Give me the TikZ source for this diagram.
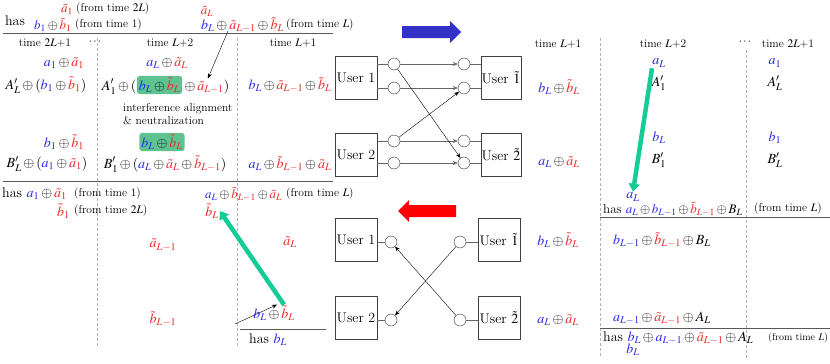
\documentclass[tikz,border=0pt]{standalone}
\usepackage{mathptmx}
\usetikzlibrary{arrows.meta}

\definecolor{ublue}{RGB}{40,40,235}
\definecolor{ured}{RGB}{240,40,40}
\definecolor{hlgreen}{RGB}{95,195,145}
\definecolor{fatgreen}{RGB}{20,205,150}
\definecolor{fatblue}{RGB}{50,50,200}
\newcommand{\xb}[1]{{\color{ublue}#1}}
\newcommand{\xr}[1]{{\color{ured}#1}}

\tikzset{
  user/.style={draw=black!75, minimum width=42pt, minimum height=43pt, inner sep=0.5pt,
    font=\fontsize{14}{16}\selectfont},
  port/.style={circle, draw=black!80, minimum size=12pt, inner sep=0pt},
  wire/.style={draw=gray!80!black},
  link/.style={-{Stealth[length=5pt,width=4pt]}},
  fat/.style={draw=fatgreen, line width=4.5pt, -{Triangle[length=8pt,width=11pt]}},
  sep/.style={draw=black!65, line width=1pt},
  col/.style={draw=gray!60, dash pattern=on 3pt off 2pt},
  tl/.style={font=\fontsize{11.5}{13}\selectfont, inner sep=1pt},
  sm/.style={font=\fontsize{13}{15}\selectfont, inner sep=1pt},
  eq/.style={font=\fontsize{14}{16}\selectfont, inner sep=1pt},
  hl/.style={fill=hlgreen, rounded corners=3pt, inner sep=2pt, font=\fontsize{14}{16}\selectfont}
}

\begin{document}
\begin{tikzpicture}[x=1pt,y=-1pt]
\useasboundingbox (0,0) rectangle (830,364);

% left panel: what is known before time L+1
\node[eq] (hasT0) at (15,21) {has};
\node[sm, anchor=west] (hasT1) at (60,9) {$\xr{\tilde a_1}$};
\node[tl, anchor=west] (fromT1) at (75,9) {(from time $2L$)};
\node[sm, anchor=west] (hasT2) at (33,25) {$\xb{b_1}\oplus\xr{\tilde b_1}$};
\node[tl, anchor=west] (fromT2) at (74,25) {(from time 1)};
\node[sm] (hasT3) at (207,11) {$\xr{\tilde a_L}$};
\node[eq, anchor=west] (hasT4) at (200,25) {$\xb{b_L}\oplus\xr{\tilde a_{L-1}}\oplus\xr{\tilde b_L}$};
\node[tl, anchor=west] (fromT4) at (285,25) {(from time $L$)};
\draw[sep] (3,33) -- (333,33);

% column heads
\node[tl] (tA1) at (45,43) {time $2L$+1};
\node[tl] (dotsA) at (95,42) {$\cdots$};
\node[tl] (tA2) at (170,43) {time $L$+2};
\node[tl] (tA3) at (293,43) {time $L$+1};
\draw[col] (97,38) -- (97,348);
\draw[col] (237,38) -- (237,348);

% first row
\node[eq] (a1s) at (64,63) {$\xb{a_1}\oplus\xr{\tilde a_1}$};
\node[eq] (rowA1) at (46,85) {$A'_L\oplus(\xb{b_1}\oplus\xr{\tilde b_1})$};
\node[eq] (aLs) at (167,63) {$\xb{a_L}\oplus\xr{\tilde a_L}$};
\node[hl] (algA) at (159.5,85) {$\xb{b_L}\oplus\xr{\tilde b_L}$};
\node[eq, anchor=base east, inner xsep=0pt] (preA) at (algA.base west) {$A'_1\oplus{}($};
\node[eq, anchor=base west, inner xsep=0pt] (postA) at (algA.base east) {${}\oplus\xr{\tilde a_{L-1}})$};
\node[eq] (rowA3) at (290,85) {$\xb{b_L}\oplus\xr{\tilde a_{L-1}}\oplus\xr{\tilde b_L}$};
\coordinate (srcA) at (228,31);
\draw[link] (srcA) -- ([xshift=2pt]postA.north);

\node[tl, anchor=west, align=left] (note) at (122,114) {interference alignment\\\& neutralization};

% second row
\node[eq] (b1s) at (64,142) {$\xb{b_1}\oplus\xr{\tilde b_1}$};
\node[hl] (algB) at (162,142) {$\xb{b_L}\oplus\xr{\tilde b_L}$};
\node[eq] (rowB1) at (47,164) {$B'_L\oplus(\xb{a_1}\oplus\xr{\tilde a_1})$};
\node[eq] (rowB2) at (165,164) {$B'_1\oplus(\xb{a_L}\oplus\xr{\tilde a_L}\oplus\xr{\tilde b_{L-1}})$};
\node[eq] (rowB3) at (290,164) {$\xb{a_L}\oplus\xr{\tilde b_{L-1}}\oplus\xr{\tilde a_L}$};
\draw[sep] (3,181) -- (333,181);

% lower left panel
\node[eq, anchor=west] (hasM1) at (1,194) {has $\xb{a_1}\oplus\xr{\tilde a_1}$};
\node[tl, anchor=west] (fromM1) at (73,194) {(from time 1)};
\node[eq, anchor=west] (hasM2) at (56,211) {$\xr{\tilde b_1}$};
\node[tl, anchor=west] (fromM2) at (73,211) {(from time $2L$)};
\node[sm, anchor=west] (hasM3) at (204,194) {$\xb{a_L}\oplus\xr{\tilde b_{L-1}}\oplus\xr{\tilde a_L}$};
\node[tl, anchor=west] (fromM3) at (285,194) {(from time $L$)};
\node[eq] (bLt) at (212,211) {$\xr{\tilde b_L}$};
\node[eq] (aLm1) at (163,245) {$\xr{\tilde a_{L-1}}$};
\node[eq] (aLt) at (290,242) {$\xr{\tilde a_L}$};
\node[eq] (bLm1) at (163,319) {$\xr{\tilde b_{L-1}}$};
\node[eq] (sumL) at (274,313) {$\xb{b_L}\oplus\xr{\tilde b_L}$};
\coordinate (srcB) at (235,324);
\draw[link] (srcB) -- ([xshift=3pt]sumL.north);
\draw[fat] ([xshift=10pt]sumL.north) -- (bLt.east);
\draw[sep] (240,329) -- (326,329);
\node[eq] (hasL) at (268,340) {has $\xb{b_L}$};

% forward channel
\fill[fatblue] (402,26) -- ++(48,0) -- ++(0,-5) -- ++(11,11) -- ++(-11,11) -- ++(0,-5) -- ++(-48,0) -- cycle;
\node[user] (uA1) at (356,78) {User 1};
\node[user] (uA2) at (356,155) {User 2};
\node[user, minimum width=38pt] (uB1) at (501,78) {User $\tilde 1$};
\node[user, minimum width=38pt] (uB2) at (501,155) {User $\tilde 2$};
\foreach \n/\y in {1/64,2/88,3/141,4/163} {
  \node[port] (sA\n) at (394,\y) {};
  \node[port] (rA\n) at (464,\y) {};
}
\foreach \n/\u in {1/1,2/1,3/2,4/2} {
  \draw[wire] (uA\u.east |- sA\n) -- (sA\n);
  \draw[wire] (rA\n) -- (rA\n -| uB\u.west);
  \draw[wire, link] (sA\n) -- (rA\n);
}
\draw[link] (sA1) -- (rA4);
\draw[link] (sA3) -- (rA2);

% backward channel
\fill[red] (456,205) -- ++(-47,0) -- ++(0,-5) -- ++(-11,11) -- ++(11,11) -- ++(0,-5) -- ++(47,0) -- cycle;
\node[user] (uC1) at (356,240) {User 1};
\node[user] (uC2) at (356,318) {User 2};
\node[user] (uD1) at (499,240) {User $\tilde 1$};
\node[user] (uD2) at (499,318) {User $\tilde 2$};
\node[port] (pC1) at (391,242) {};
\node[port] (pC2) at (391,320) {};
\node[port] (pD1) at (460,242) {};
\node[port] (pD2) at (460,320) {};
\draw[wire] (uC1.east |- pC1) -- (pC1);
\draw[wire] (uC2.east |- pC2) -- (pC2);
\draw[wire] (pD1) -- (pD1 -| uD1.west);
\draw[wire] (pD2) -- (pD2 -| uD2.west);
\draw[link] (pD2) -- (pC1);
\draw[link] (pD1) -- (pC2);

% right panel
\node[tl] (tB1) at (558,44) {time $L$+1};
\node[tl] (tB2) at (663,44) {time $L$+2};
\node[tl] (dotsB) at (745,42) {$\cdots$};
\node[tl] (tB3) at (788,44) {time $2L$+1};
\draw[col] (600,38) -- (600,358);
\draw[col] (746,50) -- (746,358);
\node[eq] (recB1) at (559,87) {$\xb{b_L}\oplus\xr{\tilde b_L}$};
\node[eq] (recB2) at (559,162) {$\xb{a_L}\oplus\xr{\tilde a_L}$};
\node[eq] (aLr) at (659,63) {$\xb{a_L}$};
\node[eq] (A1r) at (659,83) {$A'_1$};
\node[eq] (a1r) at (775,63) {$\xb{a_1}$};
\node[eq] (ALr) at (775,83) {$A'_L$};
\node[eq] (bLr) at (659,138) {$\xb{b_L}$};
\node[eq] (B1r) at (659,160) {$B'_1$};
\node[eq] (b1r) at (775,138) {$\xb{b_1}$};
\node[eq] (BLr) at (775,160) {$B'_L$};
\node[eq] (aLd) at (633,197) {$\xb{a_L}$};
\draw[fat] ([xshift=-7pt]aLr.south) -- (aLd.north);
\node[sm, anchor=west] (hasR1) at (602,209) {has $\xb{a_L}\oplus\xb{b_{L-1}}\oplus\xr{\tilde b_{L-1}}\oplus B_L$};
\node[tl, anchor=west] (fromR1) at (753,209) {(from time $L$)};
\draw[sep] (600,217) -- (830,217);
\node[eq] (recC1) at (558,240) {$\xb{b_L}\oplus\xr{\tilde b_L}$};
\node[eq, anchor=west] (recC2) at (612,240) {$\xb{b_{L-1}}\oplus\xr{\tilde b_{L-1}}\oplus B_L$};
\node[eq] (recC3) at (558,320) {$\xb{a_L}\oplus\xr{\tilde a_L}$};
\node[eq, anchor=west] (recC4) at (612,318) {$\xb{a_{L-1}}\oplus\xr{\tilde a_{L-1}}\oplus A_L$};
\draw[sep] (600,328) -- (830,328);
\node[eq, anchor=west] (hasR2) at (602,338) {has $\xb{b_L}\oplus\xb{a_{L-1}}\oplus\xr{\tilde a_{L-1}}\oplus A_L$};
\node[tl, anchor=west, font=\fontsize{10}{12}\selectfont] (fromR2) at (767,338) {(from time $L$)};
\node[eq] (bLd) at (633,350) {$\xb{b_L}$};
\end{tikzpicture}
\end{document}
